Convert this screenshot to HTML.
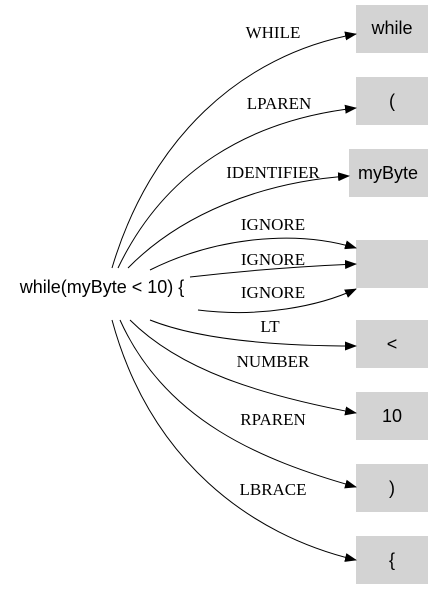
<!DOCTYPE html><html><head><style>body{margin:0;background:#fff}svg{display:block}</style></head><body>
<svg width="440" height="589" viewBox="0 0 440 589" xmlns="http://www.w3.org/2000/svg">
<defs><marker id="a" markerWidth="12" markerHeight="9" refX="11" refY="4.5" orient="auto" markerUnits="userSpaceOnUse"><polygon points="0,0 12,4.5 0,9" fill="#000"/></marker></defs>
<g fill="#d3d3d3">
<rect x="356" y="5" width="72" height="48"/><rect x="356" y="77" width="72" height="48"/><rect x="349" y="149" width="79" height="48"/><rect x="356" y="240" width="72" height="48"/><rect x="356" y="320" width="72" height="48"/><rect x="356" y="392" width="72" height="48"/><rect x="356" y="464" width="72" height="48"/><rect x="356" y="536" width="72" height="48"/>
</g>
<g font-family="Liberation Sans, sans-serif" font-size="18" text-anchor="middle">
<text x="392" y="34">while</text><text x="392" y="107">(</text><text x="388" y="179">myByte</text><text x="392" y="350">&lt;</text><text x="392" y="422">10</text><text x="392" y="494">)</text><text x="392" y="566">{</text>
<text x="102" y="293">while(myByte &lt; 10) {</text>
</g>
<g fill="none" stroke="#000" stroke-width="1" marker-end="url(#a)">
<path d="M112,268 C150,140 240,55 356,34"/>
<path d="M118,268 C165,170 250,120 356,108"/>
<path d="M128,268 C180,215 260,182 349,176"/>
<path d="M150,270 C210,240 290,228 356,248"/>
<path d="M190,277 C250,270 310,266 356,264"/>
<path d="M198,310 C260,318 320,306 356,289"/>
<path d="M150,320 C200,340 280,346 356,346"/>
<path d="M130,320 C180,370 260,395 356,413"/>
<path d="M120,320 C165,420 260,460 356,487"/>
<path d="M112,320 C150,460 250,535 356,560"/>
</g>
<g font-family="Liberation Serif, serif" font-size="17" text-anchor="middle">
<text x="273" y="38">WHILE</text><text x="279" y="109">LPAREN</text><text x="273" y="178">IDENTIFIER</text><text x="273" y="230">IGNORE</text><text x="273" y="265">IGNORE</text><text x="273" y="298">IGNORE</text><text x="270" y="332">LT</text><text x="273" y="367">NUMBER</text><text x="273" y="425">RPAREN</text><text x="273" y="495">LBRACE</text>
</g>
</svg></body></html>
